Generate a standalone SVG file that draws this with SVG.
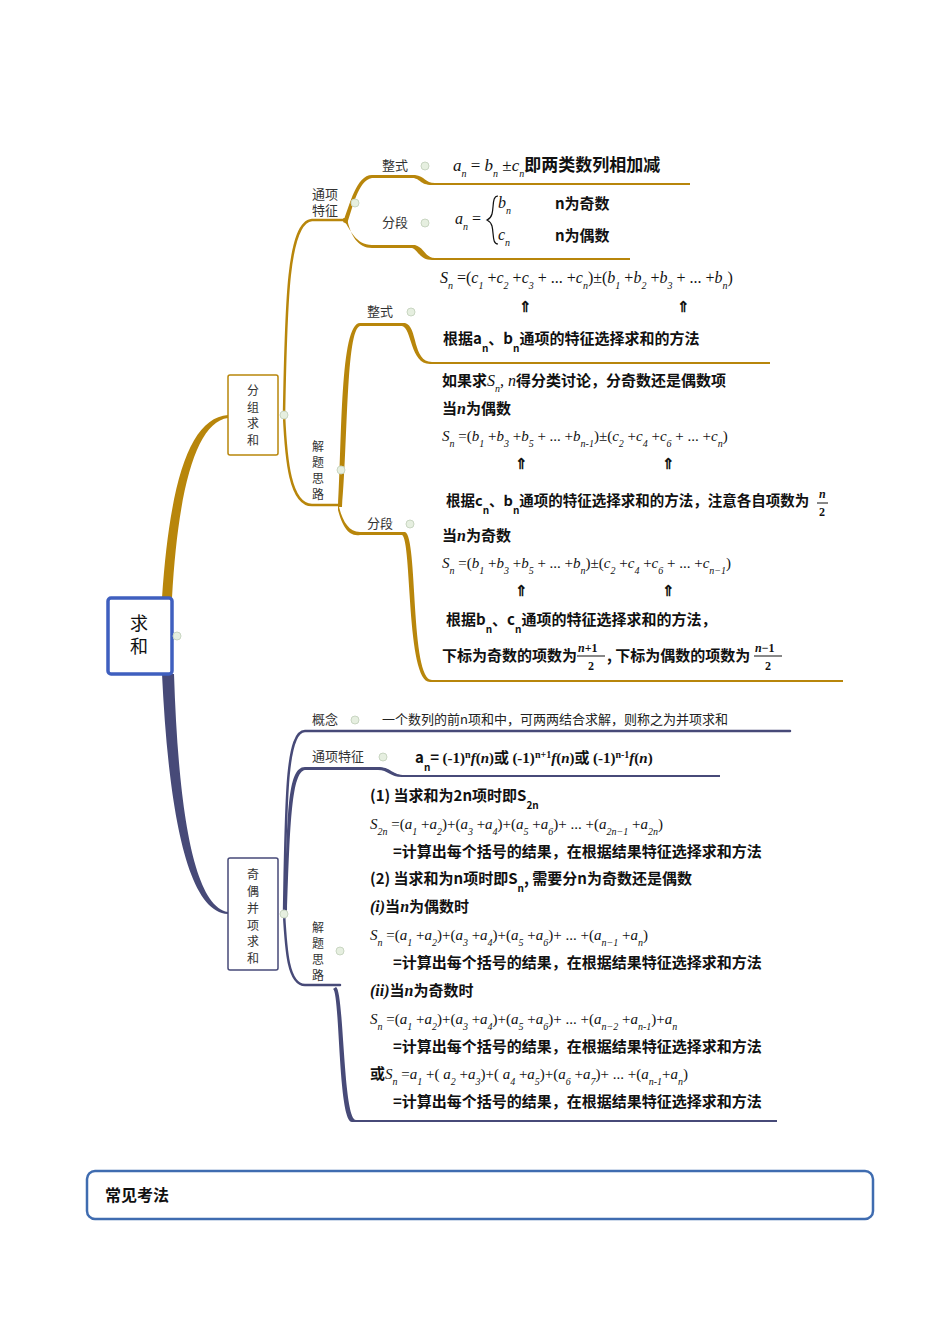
<svg xmlns="http://www.w3.org/2000/svg" width="950" height="1344" viewBox="0 0 950 1344">
<style>
.lb{font-family:"Noto Sans CJK SC","Noto Sans",sans-serif;font-size:13px;fill:#333}
.v{font-size:12px}
.b{font-family:"Noto Sans CJK SC","Noto Sans",sans-serif;font-size:15px;font-weight:bold;fill:#111}
.m{font-family:"Liberation Serif","Noto Sans CJK SC",serif;font-size:16px;font-style:italic;fill:#111}
.mb{font-family:"Liberation Serif","Noto Sans CJK SC",serif;font-size:15px;font-weight:bold;fill:#111}
.s{font-size:10px;baseline-shift:sub}
.p{font-size:10px;baseline-shift:super}
.u{font-style:normal}
.g{fill:none;stroke:#b8860b;stroke-width:2.5;stroke-linecap:round}
.n{fill:none;stroke:#474a78;stroke-width:2.5;stroke-linecap:round}
.gt{fill:#b8860b}.nt{fill:#474a78}
.dot{fill:#e6efe0;stroke:#c9d6c2;stroke-width:1}
</style>
<rect width="950" height="1344" fill="#fff"/>
<g id="connectors">
<path class="gt" d="M162,598 C170,480 190,418 228,415 L228,418 C196,422 178,490 172,598 Z"/>
<path class="nt" d="M162,674 C168,800 185,912 228,914 L228,912 C192,906 178,800 174,674 Z"/>
<path class="g" d="M284,415 C286,300 288,222 312,220 L345,220"/>
<path class="g" d="M284,415 C286,460 290,505 312,505 L340,505"/>
<path class="gt" d="M343,222 C350,205 356,175 372,175 L415,175 C425,176 425,183 435,183 L690,183 L690,185 L432,185 C420,185 420,178 412,178 L372,178 C358,180 352,210 347,224 Z"/>
<path class="gt" d="M343,218 C350,230 356,245 372,245 L415,245 C425,248 425,258 435,258 L630,258 L630,260 L432,260 C420,260 418,250 412,248 L372,248 C358,248 350,235 347,218 Z"/>
<path class="gt" d="M338,507 C342,440 340,323 360,323 L405,323 C418,326 412,362 432,362 L770,362 L770,364 L430,364 C410,364 412,328 402,326 L360,326 C346,330 348,440 342,507 Z"/>
<path class="gt" d="M338,503 C342,520 348,532 360,532 L405,532 C418,536 410,680 432,680 L843,680 L843,682 L430,682 C406,682 412,540 402,535 L360,535 C348,537 342,525 338,510 Z"/>
<path class="n" d="M284,914 C286,800 286,731 305,731 L790,731"/>
<path class="nt" d="M284,914 C288,820 286,767 305,767 L380,767 C392,768 392,775 405,775 L720,775 L720,777 L402,777 C390,777 388,770 378,770 L305,770 C292,772 290,820 287,914 Z"/>
<path class="n" d="M284,914 C286,950 288,985 305,985 L340,985"/>
<path class="nt" d="M336,987 C344,990 343,1120 356,1120 L777,1120 L777,1122 L352,1122 C338,1122 340,992 333,989 Z"/>
</g>
<g id="root"><rect x="108" y="598" width="64" height="76" rx="3" fill="#fff" stroke="#3f5fbf" stroke-width="3.5"/>
<text x="139" y="630" text-anchor="middle" class="lb" style="font-size:18px;fill:#111">求</text>
<text x="139" y="653" text-anchor="middle" class="lb" style="font-size:18px;fill:#111">和</text>
<circle class="dot" cx="177" cy="636" r="4"/></g>
<g id="fzqh"><rect x="228" y="375" width="50" height="80" rx="2" fill="#fff" stroke="#b8860b" stroke-width="1.5"/>
<text class="lb v" text-anchor="middle" x="253" y="395">分</text><text class="lb v" text-anchor="middle" x="253" y="412">组</text><text class="lb v" text-anchor="middle" x="253" y="428">求</text><text class="lb v" text-anchor="middle" x="253" y="445">和</text>
<circle class="dot" cx="284" cy="415" r="4"/></g>
<g id="qobx"><rect x="228" y="858" width="50" height="112" rx="2" fill="#fff" stroke="#474a78" stroke-width="1.5"/>
<text class="lb v" text-anchor="middle" x="253" y="879">奇</text><text class="lb v" text-anchor="middle" x="253" y="896">偶</text><text class="lb v" text-anchor="middle" x="253" y="913">并</text><text class="lb v" text-anchor="middle" x="253" y="930">项</text><text class="lb v" text-anchor="middle" x="253" y="946">求</text><text class="lb v" text-anchor="middle" x="253" y="963">和</text>
<circle class="dot" cx="284" cy="914" r="4"/></g>
<g id="txtz1"><text class="lb" x="312" y="199">通项</text><text class="lb" x="312" y="215">特征</text><circle class="dot" cx="355" cy="203" r="4"/></g>
<g id="zs1"><text class="lb" x="382" y="170">整式</text><circle class="dot" cx="425" cy="166" r="4"/>
<text class="m" x="453" y="171" style="font-size:17px">a<tspan class="s">n</tspan> <tspan class="u">=</tspan> b<tspan class="s">n</tspan> <tspan class="u">±</tspan>c<tspan class="s">n</tspan><tspan class="b" style="font-style:normal;font-size:17px">即两类数列相加减</tspan></text></g>
<g id="fd1"><text class="lb" x="382" y="227">分段</text><circle class="dot" cx="425" cy="223" r="4"/>
<text class="m" x="455" y="224">a<tspan class="s">n</tspan> <tspan class="u">=</tspan></text>
<path d="M498,196 C492,196 494,206 492,214 C491,218 489,219 487,220 C489,221 491,222 492,226 C494,234 492,244 498,244" fill="none" stroke="#111" stroke-width="1.2"/>
<text class="m" x="498" y="208">b<tspan class="s">n</tspan></text><text class="m" x="498" y="240">c<tspan class="s">n</tspan></text>
<text class="b" x="555" y="209">n为奇数</text><text class="b" x="555" y="241">n为偶数</text></g>
<g id="jtsl1"><text class="lb v" x="312" y="451">解</text><text class="lb v" x="312" y="467">题</text><text class="lb v" x="312" y="483">思</text><text class="lb v" x="312" y="499">路</text><circle class="dot" cx="341" cy="470" r="4"/></g>
<g id="zs2"><text class="lb" x="367" y="316">整式</text><circle class="dot" cx="411" cy="312" r="4"/>
<text class="m" x="440" y="283">S<tspan class="s">n</tspan> <tspan class="u">=(</tspan>c<tspan class="s">1</tspan> <tspan class="u">+</tspan>c<tspan class="s">2</tspan> <tspan class="u">+</tspan>c<tspan class="s">3</tspan> <tspan class="u">+ ... +</tspan>c<tspan class="s">n</tspan><tspan class="u">)±(</tspan>b<tspan class="s">1</tspan> <tspan class="u">+</tspan>b<tspan class="s">2</tspan> <tspan class="u">+</tspan>b<tspan class="s">3</tspan> <tspan class="u">+ ... +</tspan>b<tspan class="s">n</tspan><tspan class="u">)</tspan></text>
<text class="mb" x="519" y="312">⇑</text><text class="mb" x="677" y="312">⇑</text>
<text class="b" x="443" y="344">根据a<tspan class="s">n</tspan>、b<tspan class="s">n</tspan>通项的特征选择求和的方法</text></g>
<g id="fd2"><text class="lb" x="367" y="528">分段</text><circle class="dot" cx="410" cy="524" r="4"/>
<text class="b" x="442" y="386">如果求<tspan class="m" style="font-weight:normal">S<tspan class="s">n</tspan>, n</tspan>得分类讨论，分奇数还是偶数项</text>
<text class="b" x="442" y="414">当<tspan class="m">n</tspan>为偶数</text>
<text class="m" x="442" y="441" style="font-size:15px">S<tspan class="s">n</tspan> <tspan class="u">=(</tspan>b<tspan class="s">1</tspan> <tspan class="u">+</tspan>b<tspan class="s">3</tspan> <tspan class="u">+</tspan>b<tspan class="s">5</tspan> <tspan class="u">+ ... +</tspan>b<tspan class="s">n-1</tspan><tspan class="u">)±(</tspan>c<tspan class="s">2</tspan> <tspan class="u">+</tspan>c<tspan class="s">4</tspan> <tspan class="u">+</tspan>c<tspan class="s">6</tspan> <tspan class="u">+ ... +</tspan>c<tspan class="s">n</tspan><tspan class="u">)</tspan></text>
<text class="mb" x="515" y="469">⇑</text><text class="mb" x="662" y="469">⇑</text>
<text class="b" x="446" y="506" style="font-size:14.5px">根据c<tspan class="s">n</tspan>、b<tspan class="s">n</tspan>通项的特征选择求和的方法，注意各自项数为</text>
<text class="m" x="819" y="498" style="font-size:12px;font-weight:bold">n</text><line x1="817" y1="503" x2="828" y2="503" stroke="#111"/><text class="mb" x="819" y="516" style="font-size:12px">2</text>
<text class="b" x="442" y="541">当<tspan class="m">n</tspan>为奇数</text>
<text class="m" x="442" y="568" style="font-size:15px">S<tspan class="s">n</tspan> <tspan class="u">=(</tspan>b<tspan class="s">1</tspan> <tspan class="u">+</tspan>b<tspan class="s">3</tspan> <tspan class="u">+</tspan>b<tspan class="s">5</tspan> <tspan class="u">+ ... +</tspan>b<tspan class="s">n</tspan><tspan class="u">)±(</tspan>c<tspan class="s">2</tspan> <tspan class="u">+</tspan>c<tspan class="s">4</tspan> <tspan class="u">+</tspan>c<tspan class="s">6</tspan> <tspan class="u">+ ... +</tspan>c<tspan class="s">n−1</tspan><tspan class="u">)</tspan></text>
<text class="mb" x="515" y="596">⇑</text><text class="mb" x="662" y="596">⇑</text>
<text class="b" x="446" y="625">根据b<tspan class="s">n</tspan>、c<tspan class="s">n</tspan>通项的特征选择求和的方法，</text>
<text class="b" x="442" y="661">下标为奇数的项数为</text>
<text class="m" x="578" y="652" style="font-size:12px;font-weight:bold">n<tspan class="u">+1</tspan></text><line x1="577" y1="656" x2="605" y2="656" stroke="#111"/><text class="mb" x="588" y="670" style="font-size:12px">2</text>
<text class="b" x="607" y="661">, 下标为偶数的项数为</text>
<text class="m" x="755" y="652" style="font-size:12px;font-weight:bold">n<tspan class="u">−1</tspan></text><line x1="754" y1="656" x2="782" y2="656" stroke="#111"/><text class="mb" x="765" y="670" style="font-size:12px">2</text></g>
<g id="gn"><text class="lb" x="312" y="724">概念</text><circle class="dot" cx="355" cy="720" r="4"/>
<text class="lb" x="382" y="724" style="fill:#222">一个数列的前n项和中，可两两结合求解，则称之为并项求和</text></g>
<g id="txtz2"><text class="lb" x="312" y="761">通项特征</text><circle class="dot" cx="383" cy="757" r="4"/>
<text class="b" x="415" y="763">a<tspan class="s">n</tspan>= <tspan class="mb">(-1)<tspan class="p">n</tspan><tspan font-style="italic">f</tspan>(<tspan font-style="italic">n</tspan>)</tspan>或 <tspan class="mb">(-1)<tspan class="p">n+1</tspan><tspan font-style="italic">f</tspan>(<tspan font-style="italic">n</tspan>)</tspan>或 <tspan class="mb">(-1)<tspan class="p">n-1</tspan><tspan font-style="italic">f</tspan>(<tspan font-style="italic">n</tspan>)</tspan></text></g>
<g id="jtsl2"><text class="lb v" x="312" y="932">解</text><text class="lb v" x="312" y="948">题</text><text class="lb v" x="312" y="964">思</text><text class="lb v" x="312" y="980">路</text><circle class="dot" cx="340" cy="951" r="4"/>
<text class="b" x="370" y="801">(1) 当求和为2n项时即S<tspan class="s">2n</tspan></text>
<text class="m" x="370" y="829" style="font-size:15px">S<tspan class="s">2n</tspan> <tspan class="u">=(</tspan>a<tspan class="s">1</tspan> <tspan class="u">+</tspan>a<tspan class="s">2</tspan><tspan class="u">)+(</tspan>a<tspan class="s">3</tspan> <tspan class="u">+</tspan>a<tspan class="s">4</tspan><tspan class="u">)+(</tspan>a<tspan class="s">5</tspan> <tspan class="u">+</tspan>a<tspan class="s">6</tspan><tspan class="u">)+ ... +(</tspan>a<tspan class="s">2n−1</tspan> <tspan class="u">+</tspan>a<tspan class="s">2n</tspan><tspan class="u">)</tspan></text>
<text class="b" x="393" y="857">=计算出每个括号的结果，在根据结果特征选择求和方法</text>
<text class="b" x="370" y="884">(2) 当求和为n项时即S<tspan class="s">n</tspan>, 需要分n为奇数还是偶数</text>
<text class="b" x="370" y="912"><tspan class="m">(i)</tspan>当<tspan class="m">n</tspan>为偶数时</text>
<text class="m" x="370" y="940" style="font-size:15px">S<tspan class="s">n</tspan> <tspan class="u">=(</tspan>a<tspan class="s">1</tspan> <tspan class="u">+</tspan>a<tspan class="s">2</tspan><tspan class="u">)+(</tspan>a<tspan class="s">3</tspan> <tspan class="u">+</tspan>a<tspan class="s">4</tspan><tspan class="u">)+(</tspan>a<tspan class="s">5</tspan> <tspan class="u">+</tspan>a<tspan class="s">6</tspan><tspan class="u">)+ ... +(</tspan>a<tspan class="s">n−1</tspan> <tspan class="u">+</tspan>a<tspan class="s">n</tspan><tspan class="u">)</tspan></text>
<text class="b" x="393" y="968">=计算出每个括号的结果，在根据结果特征选择求和方法</text>
<text class="b" x="370" y="996"><tspan class="m">(ii)</tspan>当<tspan class="m">n</tspan>为奇数时</text>
<text class="m" x="370" y="1024" style="font-size:15px">S<tspan class="s">n</tspan> <tspan class="u">=(</tspan>a<tspan class="s">1</tspan> <tspan class="u">+</tspan>a<tspan class="s">2</tspan><tspan class="u">)+(</tspan>a<tspan class="s">3</tspan> <tspan class="u">+</tspan>a<tspan class="s">4</tspan><tspan class="u">)+(</tspan>a<tspan class="s">5</tspan> <tspan class="u">+</tspan>a<tspan class="s">6</tspan><tspan class="u">)+ ... +(</tspan>a<tspan class="s">n−2</tspan> <tspan class="u">+</tspan>a<tspan class="s">n-1</tspan><tspan class="u">)+</tspan>a<tspan class="s">n</tspan></text>
<text class="b" x="393" y="1052">=计算出每个括号的结果，在根据结果特征选择求和方法</text>
<text class="b" x="370" y="1079">或<tspan class="m" style="font-size:15px;font-weight:normal">S<tspan class="s">n</tspan> <tspan class="u">=</tspan>a<tspan class="s">1</tspan> <tspan class="u">+(</tspan> a<tspan class="s">2</tspan> <tspan class="u">+</tspan>a<tspan class="s">3</tspan><tspan class="u">)+(</tspan> a<tspan class="s">4</tspan> <tspan class="u">+</tspan>a<tspan class="s">5</tspan><tspan class="u">)+(</tspan>a<tspan class="s">6</tspan> <tspan class="u">+</tspan>a<tspan class="s">7</tspan><tspan class="u">)+ ... +(</tspan>a<tspan class="s">n-1</tspan><tspan class="u">+</tspan>a<tspan class="s">n</tspan><tspan class="u">)</tspan></tspan></text>
<text class="b" x="393" y="1107">=计算出每个括号的结果，在根据结果特征选择求和方法</text></g>
<g id="cjkf"><rect x="87" y="1171" width="786" height="48" rx="8" fill="#fff" stroke="#3f6cb0" stroke-width="2.5"/>
<text class="b" x="105" y="1201" style="font-size:16px">常见考法</text></g>
</svg>
